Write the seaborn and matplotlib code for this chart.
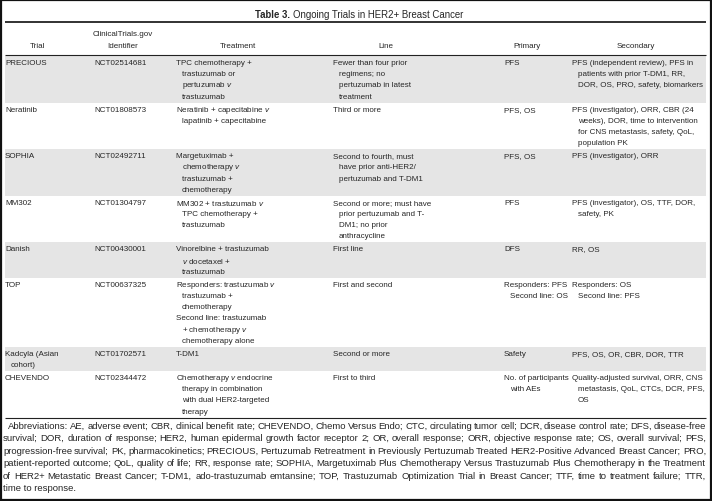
import matplotlib
matplotlib.use("Agg")
import matplotlib.pyplot as plt
import seaborn as sns
from matplotlib.patches import Rectangle

# ---- table content ----
title_bold = "Table 3."
title_rest = "Ongoing Trials in HER2+ Breast Cancer"
headers = [["Trial"], ["ClinicalTrials.gov", "Identifier"], ["Treatment"], ["Line"], ["Primary"], ["Secondary"]]

trials = [["PRECIOUS"], ["Neratinib"], ["SOPHIA"], ["MM302"], ["Danish"], ["TOP"],
          ["Kadcyla (Asian", "cohort)"], ["CHEVENDO"]]
identifiers = [["NCT02514681"], ["NCT01808573"], ["NCT02492711"], ["NCT01304797"],
               ["NCT00430001"], ["NCT00637325"], ["NCT01702571"], ["NCT02344472"]]
treatments = [
    ["TPC chemotherapy +", "trastuzumab or", "pertuzumab $v$", "trastuzumab"],
    ["Neratinib + capecitabine $v$", "lapatinib + capecitabine"],
    ["Margetuximab +", "chemotherapy $v$", "trastuzumab +", "chemotherapy"],
    ["MM302 + trastuzumab $v$", "TPC chemotherapy +", "trastuzumab"],
    ["Vinorelbine + trastuzumab", "$v$ docetaxel +", "trastuzumab"],
    [["Responders: trastuzumab $v$", "trastuzumab +", "chemotherapy"],
     ["Second line: trastuzumab", "+ chemotherapy $v$", "chemotherapy alone"]],
    ["T-DM1"],
    ["Chemotherapy $v$ endocrine", "therapy in combination", "with dual HER2-targeted", "therapy"],
]
lines_of_therapy = [
    ["Fewer than four prior", "regimens; no", "pertuzumab in latest", "treatment"],
    ["Third or more"],
    ["Second to fourth, must", "have prior anti-HER2/", "pertuzumab and T-DM1"],
    ["Second or more; must have", "prior pertuzumab and T-", "DM1; no prior", "anthracycline"],
    ["First line"],
    ["First and second"],
    ["Second or more"],
    ["First to third"],
]
primary = [["PFS"], ["PFS, OS"], ["PFS, OS"], ["PFS"], ["DFS"],
           ["Responders: PFS", "Second line: OS"], ["Safety"], ["No. of participants", "with AEs"]]
secondary = [
    ["PFS (independent review), PFS in", "patients with prior T-DM1, RR,", "DOR, OS, PRO, safety, biomarkers"],
    ["PFS (investigator), ORR, CBR (24", "weeks), DOR, time to intervention",
     "for CNS metastasis, safety, QoL,", "population PK"],
    ["PFS (investigator), ORR"],
    ["PFS (investigator), OS, TTF, DOR,", "safety, PK"],
    ["RR, OS"],
    ["Responders: OS", "Second line: PFS"],
    ["PFS, OS, OR, CBR, DOR, TTR"],
    ["Quality-adjusted survival, ORR, CNS", "metastasis, QoL, CTCs, DCR, PFS,", "OS"],
]
footnote = [
    "Abbreviations: AE, adverse event; CBR, clinical benefit rate; CHEVENDO, Chemo Versus Endo; CTC, circulating tumor cell; DCR, disease control rate; DFS, disease-free",
    "survival; DOR, duration of response; HER2, human epidermal growth factor receptor 2; OR, overall response; ORR, objective response rate; OS, overall survival; PFS,",
    "progression-free survival; PK, pharmacokinetics; PRECIOUS, Pertuzumab Retreatment in Previously Pertuzumab Treated HER2-Positive Advanced Breast Cancer; PRO,",
    "patient-reported outcome; QoL, quality of life; RR, response rate; SOPHIA, Margetuximab Plus Chemotherapy Versus Trastuzumab Plus Chemotherapy in the Treatment",
    "of HER2+ Metastatic Breast Cancer; T-DM1, ado-trastuzumab emtansine; TOP, Trastuzumab Optimization Trial in Breast Cancer; TTF, time to treatment failure; TTR,",
    "time to response.",
]

columns = [trials, identifiers, treatments, lines_of_therapy, primary, secondary]

# ---- layout (pixels) ----
W, H = 712, 502
col_left = [5, 94, 176, 333, 504, 572]
col_center = [37, 123, 238, 386, 527, 636]
line_h = 11.2
pad = 1.8
indent = 6
fs = 5.8
fs_note = 6.8
ink = "#262626"
band = "#e5e5e5"

sns.set_theme(style="white")
plt.rcParams["font.family"] = ["Liberation Sans", "DejaVu Sans"]
plt.rcParams["mathtext.fontset"] = "custom"
plt.rcParams["mathtext.it"] = "Liberation Sans:italic"
plt.rcParams["mathtext.rm"] = "Liberation Sans"

fig = plt.figure(figsize=(W / 100, H / 100), dpi=100)
ax = fig.add_axes([0, 0, 1, 1])
ax.set_xlim(0, W)
ax.set_ylim(H, 0)
ax.axis("off")
renderer = fig.canvas.get_renderer()


def paragraphs(cell):
    return cell if isinstance(cell[0], list) else [cell]


# title: bold label followed by plain text, centred as one line
tb = ax.text(0, 15, title_bold + " ", fontsize=6.9, fontweight="bold", color=ink, va="center")
tr = ax.text(0, 15, title_rest, fontsize=6.9, color=ink, va="center")
wb = tb.get_window_extent(renderer).width
wr = tr.get_window_extent(renderer).width
x0 = 359 - (wb + wr) / 2
tb.set_x(x0)
tr.set_x(x0 + wb)

# rules
ax.plot([5, 706], [23, 23], color="#222222", lw=1.3, solid_capstyle="butt")
ax.plot([5, 706], [56, 56], color="#222222", lw=0.8, solid_capstyle="butt")

# header
for c, hdr in enumerate(headers):
    ys = [35, 46] if len(hdr) == 2 else [47]
    for y, t in zip(ys, hdr):
        ax.text(col_center[c], y, t, fontsize=fs, color=ink, ha="center", va="center")

# body rows, shaded every other row
top = 57
for r in range(len(trials)):
    n = max(sum(len(p) for p in paragraphs(col[r])) for col in columns)
    h = n * line_h + pad
    if r % 2 == 0:
        ax.add_patch(Rectangle((5, top), 701, h, color=band, lw=0, zorder=0))
    for c, col in enumerate(columns):
        i = 0
        for para in paragraphs(col[r]):
            for k, t in enumerate(para):
                x = col_left[c] + (indent if k > 0 else 0)
                ax.text(x, top + 6.5 + i * line_h, t, fontsize=fs, color=ink, va="center")
                i += 1
    top += h

bottom_rule = top
ax.plot([5, 706], [bottom_rule, bottom_rule], color="#222222", lw=0.8, solid_capstyle="butt")

# footnote, justified to the table width
fy = bottom_rule + 7.5
for j, ln in enumerate(footnote):
    y = fy + j * 12.5
    xs = 8 if j == 0 else 3
    if j == len(footnote) - 1:
        ax.text(xs, y, ln, fontsize=fs_note, color=ink, va="center")
        continue
    words = ln.split(" ")
    arts = [ax.text(0, y, w, fontsize=fs_note, color=ink, va="center") for w in words]
    widths = [a.get_window_extent(renderer).width for a in arts]
    gap = (706 - xs - sum(widths)) / (len(words) - 1)
    x = xs
    for a, w in zip(arts, widths):
        a.set_x(x)
        x += w + gap

# outer frame
ax.add_patch(Rectangle((0.8, 0.8), W - 1.6, H - 1.6, fill=False, edgecolor="#111111", lw=1.6))

fig.savefig("out.png", dpi=100)
